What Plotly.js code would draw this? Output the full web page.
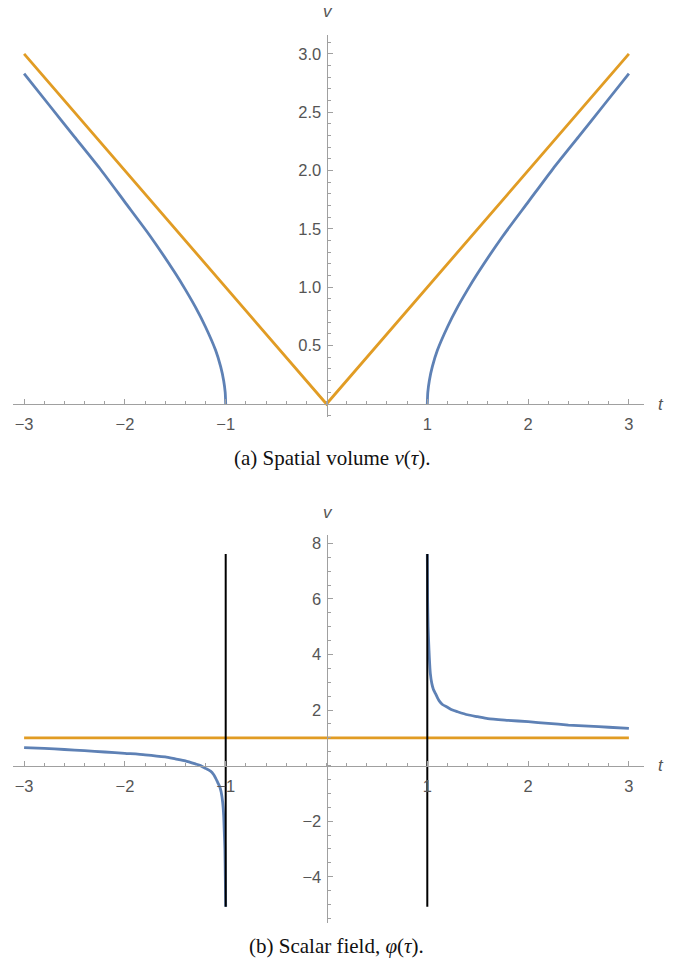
<!DOCTYPE html>
<html>
<head>
<meta charset="utf-8">
<script src="https://cdn.plot.ly/plotly-3.0.1.min.js"></script>
<style>html,body{margin:0;padding:0;background:#fff;}#chart{width:673px;height:961px;}</style>
</head>
<body>
<div id="chart"></div>
<script>
// ---- Data ----
// (a) spatial volume v(t)
const volLeftT  = [-3, -2.75, -2.5, -2.25, -2, -1.75, -1.5, -1.4, -1.3, -1.2, -1.1, -1.05, -1.02, -1.005, -1];
const volLeftV  = [2.83, 2.56, 2.29, 2.02, 1.73, 1.44, 1.12, 0.98, 0.83, 0.66, 0.46, 0.32, 0.2, 0.1, 0];
const volRightT = [1, 1.005, 1.02, 1.05, 1.1, 1.2, 1.3, 1.4, 1.5, 1.75, 2, 2.25, 2.5, 2.75, 3];
const volRightV = [0, 0.1, 0.2, 0.32, 0.46, 0.66, 0.83, 0.98, 1.12, 1.44, 1.73, 2.02, 2.29, 2.56, 2.83];
const volRefT   = [-3, 0, 3];
const volRefV   = [3, 0, 3];

// (b) scalar field phi(t)
const phiLeftT  = [-3.0, -2.8, -2.6, -2.4, -2.2, -2.0, -1.8, -1.6, -1.5, -1.4, -1.3, -1.25, -1.2, -1.15, -1.12, -1.1, -1.08, -1.06, -1.045, -1.03, -1.02, -1.014, -1.008, -1.004, -1.0];
const phiLeftV  = [0.65, 0.62, 0.58, 0.54, 0.49, 0.44, 0.39, 0.31, 0.24, 0.17, 0.06, 0.0, -0.1, -0.2, -0.32, -0.45, -0.6, -0.75, -0.95, -1.32, -1.8, -2.4, -3.0, -4.0, -5.08];
const phiRightT = [1.0, 1.003, 1.008, 1.014, 1.02, 1.03, 1.045, 1.06, 1.08, 1.1, 1.12, 1.15, 1.2, 1.25, 1.3, 1.4, 1.5, 1.6, 1.8, 2.0, 2.2, 2.4, 2.6, 2.8, 3.0];
const phiRightV = [7.62, 6.0, 5.0, 4.4, 3.9, 3.32, 2.95, 2.75, 2.6, 2.45, 2.32, 2.2, 2.1, 2.0, 1.94, 1.83, 1.76, 1.69, 1.63, 1.58, 1.52, 1.46, 1.42, 1.38, 1.34];
const phiRefT   = [-3, 3];
const phiRefV   = [1, 1];
const exclusionT = [-1, 1];
const exclusionV = [-5.08, 7.62];

// tick labels
const xTickVals = [-3, -2, -1, 1, 2, 3];
const xTickText = ['\u22123', '\u22122', '\u22121', '1', '2', '3'];
const yTopVals  = [0.5, 1, 1.5, 2, 2.5, 3];
const yTopText  = ['0.5', '1.0', '1.5', '2.0', '2.5', '3.0'];
const yBotVals  = [-4, -2, 2, 4, 6, 8];
const yBotText  = ['\u22124', '\u22122', '2', '4', '6', '8'];

// ---- Layout geometry (pixels) ----
const W = 673, H = 961;
const xPix = [13, 644], x0Pix = 326.5, xScale = 100.8;
const xRange = [(xPix[0] - x0Pix) / xScale, (xPix[1] - x0Pix) / xScale];
const topPix = [35, 417], top0 = 404, topScale = 116.7;
const botPix = [535, 923], bot0 = 765.6, botScale = 27.78;
const topRange = [(top0 - topPix[1]) / topScale, (top0 - topPix[0]) / topScale];
const botRange = [(bot0 - botPix[1]) / botScale, (bot0 - botPix[0]) / botScale];

const blue = '#5E81B5', orange = '#E19C24';
const axisCol = '#a0a0a0', labCol = '#555555';
const tickFont = {family: 'Liberation Sans, Arial, sans-serif', size: 16.5, color: labCol};

function xAxis(posPix) {
  return {
    domain: [xPix[0] / W, xPix[1] / W], range: xRange, anchor: 'free', position: 1 - posPix / H,
    showgrid: false, zeroline: false, showline: true, linecolor: axisCol, linewidth: 1.2,
    ticks: 'inside', ticklen: 5, tickcolor: axisCol, tickwidth: 1,
    tickmode: 'array', tickvals: xTickVals, ticktext: xTickText, tickfont: tickFont,
    ticklabelstandoff: 5,
    minor: {tickmode: 'linear', tick0: 0, dtick: 0.2, ticks: 'inside', ticklen: 3, tickcolor: axisCol, tickwidth: 1, showgrid: false},
    fixedrange: true
  };
}
function yAxis(pix, range, vals, text, minorStep) {
  return {
    domain: [1 - pix[1] / H, 1 - pix[0] / H], range: range, anchor: 'free', position: x0Pix / W,
    showgrid: false, zeroline: false, showline: true, linecolor: axisCol, linewidth: 1.2,
    ticks: 'inside', ticklen: 5, tickcolor: axisCol, tickwidth: 1,
    tickmode: 'array', tickvals: vals, ticktext: text, tickfont: tickFont,
    ticklabelstandoff: 2,
    minor: {tickmode: 'linear', tick0: 0, dtick: minorStep, ticks: 'inside', ticklen: 3, tickcolor: axisCol, tickwidth: 1, showgrid: false},
    fixedrange: true
  };
}

const lw = 2.8;
const smooth = {color: blue, width: lw, shape: 'spline', smoothing: 0.6};
const traces = [
  {x: volLeftT, y: volLeftV, xaxis: 'x', yaxis: 'y', mode: 'lines', line: smooth, hoverinfo: 'skip'},
  {x: volRightT, y: volRightV, xaxis: 'x', yaxis: 'y', mode: 'lines', line: smooth, hoverinfo: 'skip'},
  {x: volRefT, y: volRefV, xaxis: 'x', yaxis: 'y', mode: 'lines', line: {color: orange, width: lw}, hoverinfo: 'skip'},
  {x: phiLeftT, y: phiLeftV, xaxis: 'x2', yaxis: 'y2', mode: 'lines', line: smooth, hoverinfo: 'skip'},
  {x: phiRightT, y: phiRightV, xaxis: 'x2', yaxis: 'y2', mode: 'lines', line: smooth, hoverinfo: 'skip'},
  {x: phiRefT, y: phiRefV, xaxis: 'x2', yaxis: 'y2', mode: 'lines', line: {color: orange, width: lw}, hoverinfo: 'skip'}
];
exclusionT.forEach(function (t) {
  traces.push({x: [t, t], y: exclusionV, xaxis: 'x2', yaxis: 'y2', mode: 'lines', line: {color: '#000000', width: 2}, hoverinfo: 'skip'});
});

const italic = {family: 'Liberation Sans, Arial, sans-serif', size: 17, color: labCol};
const capFont = {family: 'Liberation Serif, Times New Roman, serif', size: 21, color: '#111111'};
const annotations = [
  {text: '<i>t</i>', xref: 'paper', yref: 'paper', x: 661 / W, y: 1 - 404 / H, showarrow: false, font: italic, xanchor: 'center', yanchor: 'middle'},
  {text: '<i>v</i>', xref: 'paper', yref: 'paper', x: 328 / W, y: 1 - 12 / H, showarrow: false, font: italic, xanchor: 'center', yanchor: 'middle'},
  {text: '<i>t</i>', xref: 'paper', yref: 'paper', x: 661 / W, y: 1 - 765 / H, showarrow: false, font: italic, xanchor: 'center', yanchor: 'middle'},
  {text: '<i>v</i>', xref: 'paper', yref: 'paper', x: 328 / W, y: 1 - 512 / H, showarrow: false, font: italic, xanchor: 'center', yanchor: 'middle'},
  {text: '(a) Spatial volume <i>v</i>(<i>τ</i>).', xref: 'paper', yref: 'paper', x: 332 / W, y: 1 - 458 / H, showarrow: false, font: capFont, xanchor: 'center', yanchor: 'middle'},
  {text: '(b) Scalar field, <i>φ</i>(<i>τ</i>).', xref: 'paper', yref: 'paper', x: 336 / W, y: 1 - 946 / H, showarrow: false, font: capFont, xanchor: 'center', yanchor: 'middle'}
];

const layout = {
  width: W, height: H, margin: {l: 0, r: 0, t: 0, b: 0},
  paper_bgcolor: '#ffffff', plot_bgcolor: 'rgba(0,0,0,0)', showlegend: false,
  xaxis: xAxis(top0),
  yaxis: yAxis(topPix, topRange, yTopVals, yTopText, 0.1),
  xaxis2: xAxis(bot0),
  yaxis2: yAxis(botPix, botRange, yBotVals, yBotText, 0.5),
  annotations: annotations
};

Plotly.newPlot('chart', traces, layout, {staticPlot: true, displayModeBar: false});
</script>
</body>
</html>
